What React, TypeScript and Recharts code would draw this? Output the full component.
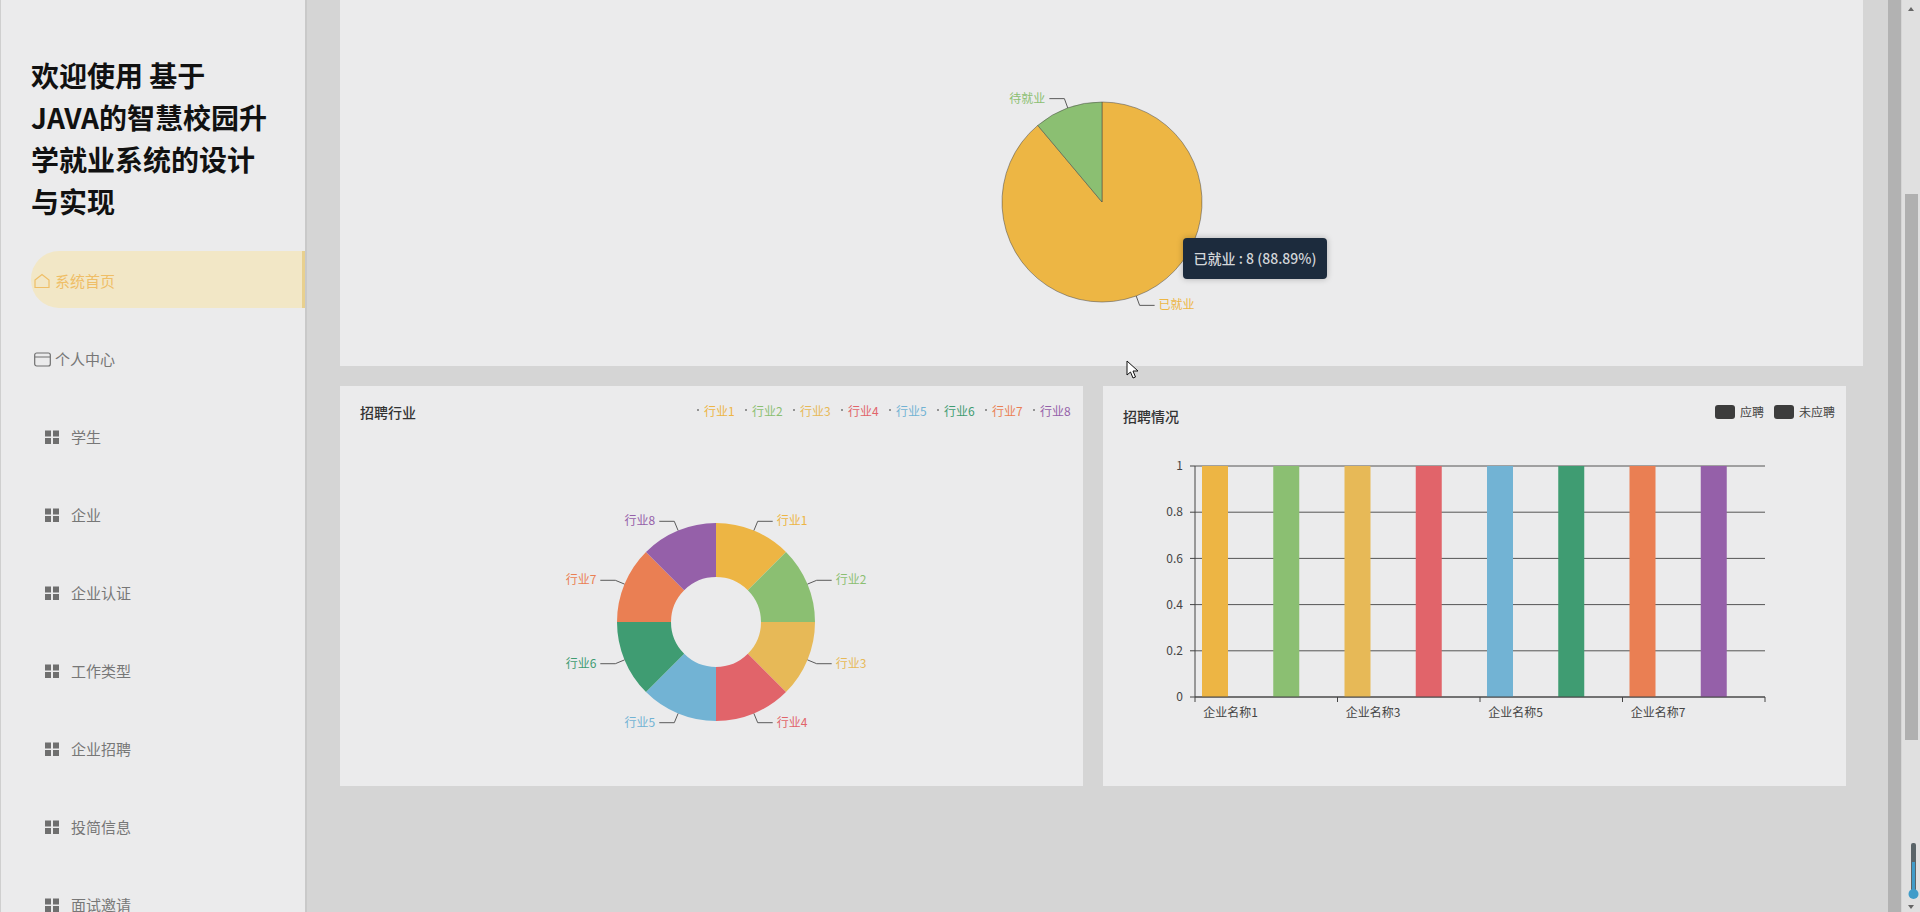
import React from "react";
import { Bar, BarChart, CartesianGrid, Cell, Legend, Pie, PieChart, XAxis, YAxis } from "recharts";

const FONT = '"Noto Sans CJK SC", "Noto Sans", sans-serif';

const employNames = ["已就业", "待就业"];
const employValues = [8, 1];
const employColors = ["#edb644", "#8bbf72"];

const industryNames = ["行业1", "行业2", "行业3", "行业4", "行业5", "行业6", "行业7", "行业8"];
const industryValues = [1, 1, 1, 1, 1, 1, 1, 1];
const palette = ["#edb544", "#8bbf72", "#e7b957", "#e1646a", "#72b3d4", "#3f9c72", "#ea7f53", "#9560a9"];

const companyNames = ["企业名称1", "企业名称2", "企业名称3", "企业名称4", "企业名称5", "企业名称6", "企业名称7", "企业名称8"];
const appliedValues = [1, 1, 1, 1, 1, 1, 1, 1];
const notAppliedValues = [0, 0, 0, 0, 0, 0, 0, 0];
const yTicks = [0, 0.2, 0.4, 0.6, 0.8, 1];

const menuItems = ["学生", "企业", "企业认证", "工作类型", "企业招聘", "投简信息", "面试邀请"];
const titleLines = ["欢迎使用 基于", "JAVA的智慧校园升", "学就业系统的设计", "与实现"];

const employData = employNames.map((name, i) => ({ name, value: employValues[i] }));
const industryData = industryNames.map((name, i) => ({ name, value: industryValues[i] }));
const companyData = companyNames.map((name, i) => ({
  name,
  applied: appliedValues[i],
  notApplied: notAppliedValues[i],
}));

const noMargin = { top: 0, right: 0, bottom: 0, left: 0 };

function polar(cx: number, cy: number, r: number, angle: number) {
  const rad = (-angle * Math.PI) / 180;
  return { x: cx + r * Math.cos(rad), y: cy + r * Math.sin(rad) };
}

// echarts style elbow label: line out of the slice, then flat, then the text
function ElbowLabel(props: any) {
  const { cx, cy, midAngle, outerRadius, name, index, colors } = props;
  const a = polar(cx, cy, outerRadius, midAngle);
  const b = polar(cx, cy, outerRadius + 10, midAngle);
  const dir = a.x > cx ? 1 : -1;
  const endX = b.x + dir * 15;
  return (
    <g>
      <polyline
        points={`${a.x},${a.y} ${b.x},${b.y} ${endX},${b.y}`}
        fill="none"
        stroke="#5a5a5a"
        strokeWidth={1}
      />
      <text
        x={endX + dir * 4}
        y={b.y - 1.5}
        textAnchor={dir > 0 ? "start" : "end"}
        dominantBaseline="central"
        fontSize={12}
        fontFamily={FONT}
        fill={colors[index]}
      >
        {name}
      </text>
    </g>
  );
}

// band boundary tick marks, labels on every other category
function CompanyTick(props: any) {
  const { x, y, payload, index, visibleTicksCount } = props;
  const offset = payload.offset ?? 35.6;
  const left = x - offset;
  return (
    <g>
      <line x1={left} x2={left} y1={y - 6} y2={y - 1} stroke="#444" />
      {index === visibleTicksCount - 1 && (
        <line x1={x + 3 * offset} x2={x + 3 * offset} y1={y - 6} y2={y - 1} stroke="#444" />
      )}
      <text x={x} y={y + 8} textAnchor="middle" dominantBaseline="central" fontSize={12} fontFamily={FONT} fill="#444">
        {payload.value}
      </text>
    </g>
  );
}

function IndustryLegend({ payload }: any) {
  return (
    <div style={{ display: "flex", fontFamily: FONT, fontSize: 12 }}>
      {(payload || []).map((p: any, i: number) => (
        <div key={p.value} style={{ width: 48, boxSizing: "border-box", display: "flex", alignItems: "center", height: 16 }}>
          <span style={{ width: 2, height: 2, borderRadius: 1, background: "#777", marginRight: 5 }} />
          <span style={{ color: palette[i], whiteSpace: "nowrap" }}>{p.value}</span>
        </div>
      ))}
    </div>
  );
}

function BarLegend({ payload }: any) {
  return (
    <div style={{ display: "flex", fontFamily: FONT, fontSize: 12, color: "#444" }}>
      {(payload || []).map((p: any) => (
        <div key={p.value} style={{ display: "flex", alignItems: "center", marginRight: 10 }}>
          <span style={{ width: 20, height: 14, borderRadius: 3, background: "#3c3c3c", marginRight: 5 }} />
          <span style={{ whiteSpace: "nowrap" }}>{p.value}</span>
        </div>
      ))}
    </div>
  );
}

function GridIcon({ top }: { top: number }) {
  return (
    <svg style={{ position: "absolute", left: 44, top: top - 7 }} width={14} height={14} viewBox="0 0 14 14">
      <rect x={0} y={0.5} width={6} height={6} fill="#6f6f6f" />
      <rect x={8} y={0.5} width={6} height={6} fill="#6f6f6f" />
      <rect x={0} y={8} width={6} height={6} fill="#6f6f6f" />
      <rect x={8} y={8} width={6} height={6} fill="#6f6f6f" />
    </svg>
  );
}

function Sidebar() {
  return (
    <div style={{ position: "absolute", left: 0, top: 0, width: 304, height: 912, background: "#ebebec", borderLeft: "1px solid #cfcfcf", borderRight: "2px solid #c9c9c9", boxSizing: "content-box", fontFamily: FONT }}>
      <div style={{ position: "absolute", left: 30, top: 54, fontSize: 28, fontWeight: 700, lineHeight: "42px", color: "#111", whiteSpace: "nowrap" }}>
        {titleLines.map((l) => (
          <div key={l}>{l}</div>
        ))}
      </div>
      <div style={{ position: "absolute", left: 30, top: 251, width: 274, height: 57, background: "#f2e7c6", borderRadius: "28px 0 0 28px", borderRight: "3px solid #e8d08f", boxSizing: "border-box" }} />
      <svg style={{ position: "absolute", left: 33, top: 273 }} width={16} height={16} viewBox="0 0 16 16">
        <path d="M1 7 L8 1.5 L15 7 V14.5 H1 Z" fill="none" stroke="#efbe66" strokeWidth={1.2} />
      </svg>
      <div style={{ position: "absolute", left: 54, top: 270, fontSize: 15, lineHeight: "22px", color: "#efbe66" }}>系统首页</div>
      <svg style={{ position: "absolute", left: 33, top: 352 }} width={17} height={15} viewBox="0 0 17 15">
        <rect x={0.7} y={1} width={15.6} height={13} rx={2} fill="none" stroke="#6f6f6f" strokeWidth={1.2} />
        <line x1={1} x2={16} y1={5} y2={5} stroke="#6f6f6f" />
      </svg>
      <div style={{ position: "absolute", left: 54, top: 348, fontSize: 15, lineHeight: "22px", color: "#777" }}>个人中心</div>
      {menuItems.map((item, i) => (
        <React.Fragment key={item}>
          <GridIcon top={437 + i * 78} />
          <div style={{ position: "absolute", left: 70, top: 426 + i * 78, fontSize: 15, lineHeight: "22px", color: "#777", whiteSpace: "nowrap" }}>{item}</div>
        </React.Fragment>
      ))}
    </div>
  );
}

function Scrollbars() {
  return (
    <>
      <div style={{ position: "absolute", left: 1888, top: 0, width: 13, height: 912, background: "#b2b2b2" }} />
      <div style={{ position: "absolute", left: 1902, top: 0, width: 18, height: 912, background: "#e0e0e0" }} />
      <div style={{ position: "absolute", left: 1905, top: 194, width: 13, height: 546, background: "#b0b0b0" }} />
      <svg style={{ position: "absolute", left: 1902, top: 0 }} width={18} height={912}>
        <path d="M6 11 L9 7 L12 11 Z" fill="#666" />
        <path d="M6 905 L9 909 L12 905 Z" fill="#666" />
        <rect x={9} y={843} width={5} height={50} rx={2} fill="#5a6468" />
        <rect x={10} y={862} width={3} height={30} fill="#3f9cc9" />
        <circle cx={11.5} cy={894} r={5} fill="#3f9cc9" />
      </svg>
    </>
  );
}

export default function App() {
  const total = employValues[0] + employValues[1];
  return (
    <div style={{ position: "absolute", left: 0, top: 0, width: 1920, height: 912, overflow: "hidden", background: "#d5d5d5", fontFamily: FONT }}>
      <Sidebar />

      <div style={{ position: "absolute", left: 340, top: 0, width: 1523, height: 366, background: "#ebebec" }}>
        <PieChart width={1523} height={366} margin={noMargin}>
          <Pie
            data={employData}
            dataKey="value"
            nameKey="name"
            cx={762}
            cy={202}
            outerRadius={100}
            startAngle={90}
            endAngle={-270}
            isAnimationActive={false}
            labelLine={false}
            label={(p: any) => <ElbowLabel {...p} colors={employColors} />}
          >
            {employData.map((d, i) => (
              <Cell key={d.name} fill={employColors[i]} stroke="rgba(70,70,70,0.5)" strokeWidth={1} />
            ))}
          </Pie>
        </PieChart>
      </div>

      <div style={{ position: "absolute", left: 1183, top: 238, width: 144, height: 41, borderRadius: 4, background: "#1c2b3d", boxShadow: "0 0 6px rgba(0,0,0,0.25)", color: "#d3d6d9", fontSize: 14, fontWeight: 500, lineHeight: "41px", textAlign: "center", whiteSpace: "nowrap" }}>
        {`${employNames[0]} : ${employValues[0]} (${((employValues[0] / total) * 100).toFixed(2)}%)`}
      </div>

      <div style={{ position: "absolute", left: 340, top: 386, width: 743, height: 400, background: "#ebebec" }}>
        <div style={{ position: "absolute", left: 20, top: 16, fontSize: 14, lineHeight: "20px", fontWeight: 500, color: "#333" }}>招聘行业</div>
        <PieChart width={743} height={400} margin={noMargin}>
          <Legend content={<IndustryLegend />} layout="horizontal" wrapperStyle={{ position: "absolute", left: 357, top: 16, width: 384, bottom: "auto" }} />
          <Pie
            data={industryData}
            dataKey="value"
            nameKey="name"
            cx={376}
            cy={236}
            innerRadius={45}
            outerRadius={99}
            startAngle={90}
            endAngle={-270}
            stroke="none"
            isAnimationActive={false}
            labelLine={false}
            label={(p: any) => <ElbowLabel {...p} colors={palette} />}
          >
            {industryData.map((d, i) => (
              <Cell key={d.name} fill={palette[i]} />
            ))}
          </Pie>
        </PieChart>
      </div>

      <div style={{ position: "absolute", left: 1103, top: 386, width: 743, height: 400, background: "#ebebec" }}>
        <div style={{ position: "absolute", left: 20, top: 20, fontSize: 14, lineHeight: "20px", fontWeight: 500, color: "#333" }}>招聘情况</div>
        <BarChart
          width={743}
          height={400}
          data={companyData}
          margin={{ top: 80, right: 81, bottom: 32, left: 32 }}
          barSize={26}
          barGap={6}
        >
          <CartesianGrid vertical={false} stroke="#555" />
          <XAxis
            dataKey="name"
            interval={1}
            axisLine={{ stroke: "#444" }}
            tickLine={false}
            tick={<CompanyTick />}
            tickMargin={0}
            height={40}
          />
          <YAxis
            domain={[0, 1]}
            ticks={yTicks}
            width={60}
            axisLine={{ stroke: "#444" }}
            tickLine={{ stroke: "#444" }}
            tickSize={5}
            tickMargin={7}
            tick={{ fontSize: 12, fontFamily: FONT, fill: "#444" }}
          />
          <Legend content={<BarLegend />} wrapperStyle={{ position: "absolute", left: 612, top: 17, width: 140, bottom: "auto" }} />
          <Bar dataKey="applied" name="应聘" fill="#3c3c3c" isAnimationActive={false}>
            {companyData.map((d, i) => (
              <Cell key={d.name} fill={palette[i]} />
            ))}
          </Bar>
          <Bar dataKey="notApplied" name="未应聘" fill="#3c3c3c" isAnimationActive={false} />
        </BarChart>
      </div>

      <svg style={{ position: "absolute", left: 1126, top: 360 }} width={14} height={20} viewBox="0 0 14 20">
        <path d="M1 1 L1 15 L4.5 12 L7 18 L9.5 17 L7 11 L12 11 Z" fill="#fff" stroke="#111" strokeWidth={1} />
      </svg>
      <Scrollbars />
    </div>
  );
}
